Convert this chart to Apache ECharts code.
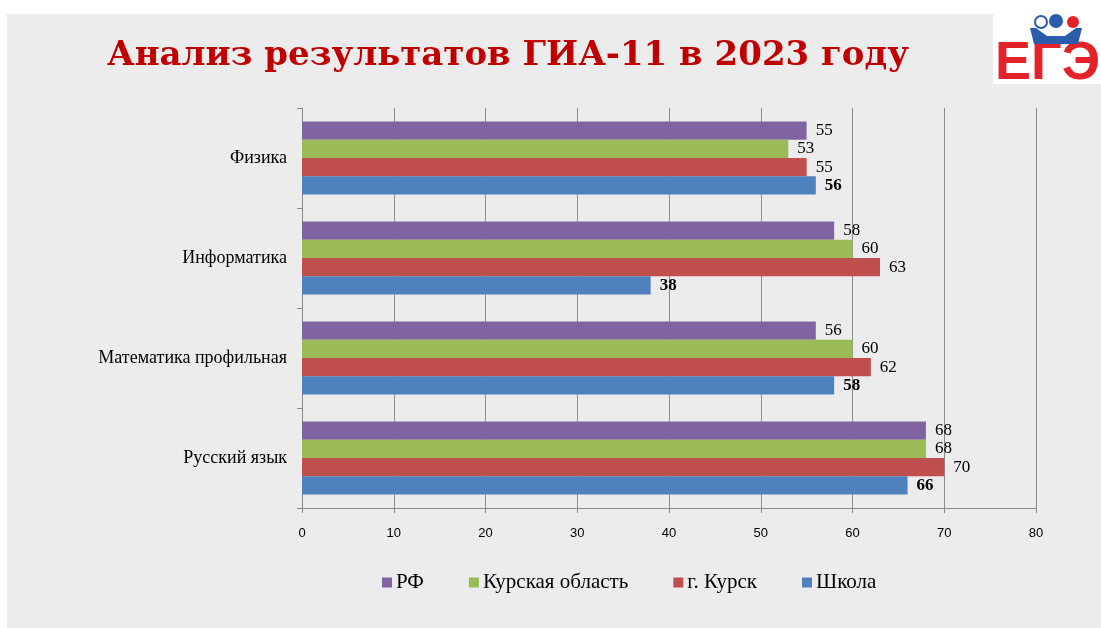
<!DOCTYPE html>
<html><head><meta charset="utf-8">
<script src="https://cdn.jsdelivr.net/npm/echarts@6/dist/echarts.min.js"></script>
<style>html,body{margin:0;padding:0;background:#fff}#c{width:1101px;height:628px}</style>
</head><body><div id="c"></div>
<script>
const categories = ['Русский язык', 'Математика профильная', 'Информатика', 'Физика'];
const rf = [68, 56, 58, 55];
const oblast = [68, 60, 60, 53];
const kursk = [70, 62, 63, 55];
const school = [66, 58, 38, 56];
const xTicks = [0, 80, 10];

const chart = echarts.init(document.getElementById('c'));
const serif = "'Liberation Serif','Times New Roman',serif";
const lbl = (bold) => ({show: true, position: 'right', distance: 9, color: '#000', fontFamily: serif, fontSize: 17, fontWeight: bold ? 'bold' : 'normal'});
chart.setOption({
  backgroundColor: '#fff',
  animation: false,
  graphic: [
    {type: 'rect', left: 7, top: 14, shape: {width: 1094, height: 614}, style: {fill: '#ececec'}, z: -10},
    {type: 'text', left: 107, top: 39, style: {text: 'Анализ результатов ГИА-11 в 2023 году', fill: '#c00000', font: "bold 34px 'DejaVu Serif', serif"}},
    {type: 'rect', left: 993, top: 14, shape: {width: 108, height: 70}, style: {fill: '#fff'}},
    {type: 'text', left: 995, top: 37, style: {text: 'ЕГЭ', fill: '#e4222a', font: "bold 54px 'Liberation Sans Narrow','Liberation Sans',sans-serif"}},
    {type: 'circle', shape: {cx: 1041, cy: 22, r: 6}, style: {fill: '#fff', stroke: '#2a5caa', lineWidth: 2}},
    {type: 'circle', shape: {cx: 1056, cy: 21, r: 7}, style: {fill: '#2a5caa'}},
    {type: 'circle', shape: {cx: 1073, cy: 22, r: 6}, style: {fill: '#e4222a'}},
    {type: 'polygon', shape: {points: [[1030,28],[1036,28],[1047,36],[1065,36],[1076,28],[1082,28],[1078,44],[1034,44]]}, style: {fill: '#2a5caa'}}
  ],
  legend: {
    left: 377, top: 567, itemWidth: 10, itemHeight: 10, itemGap: 45,
    icon: 'rect',
    data: ['РФ', 'Курская область', 'г. Курск', 'Школа'],
    textStyle: {fontFamily: serif, fontSize: 21, color: '#000', padding: [0,0,0,-1]}
  },
  grid: {left: 302, right: 65, top: 108, bottom: 120},
  xAxis: {
    type: 'value', min: xTicks[0], max: xTicks[1], interval: xTicks[2],
    axisLine: {show: true, lineStyle: {color: '#888'}},
    axisTick: {show: true, length: 5, lineStyle: {color: '#888'}},
    splitLine: {show: true, lineStyle: {color: '#8c8c8c', width: 1}},
    axisLabel: {color: '#000', fontSize: 13, margin: 19, fontFamily: "'Liberation Sans','Carlito',sans-serif"}
  },
  yAxis: {
    type: 'category', data: categories,
    axisLine: {show: true, lineStyle: {color: '#888'}},
    axisTick: {show: true, length: 5, lineStyle: {color: '#888'}},
    axisLabel: {color: '#000', fontSize: 18, margin: 15, fontFamily: serif}
  },
  series: [
    {name: 'РФ', type: 'bar', data: rf, itemStyle: {color: '#8064a2'}, barGap: '0%', barCategoryGap: '27%', label: lbl(false)},
    {name: 'Курская область', type: 'bar', data: oblast, itemStyle: {color: '#9bbb59'}, label: lbl(false)},
    {name: 'г. Курск', type: 'bar', data: kursk, itemStyle: {color: '#c0504d'}, label: lbl(false)},
    {name: 'Школа', type: 'bar', data: school, itemStyle: {color: '#4f81bd'}, label: lbl(true)}
  ]
});
</script></body></html>
